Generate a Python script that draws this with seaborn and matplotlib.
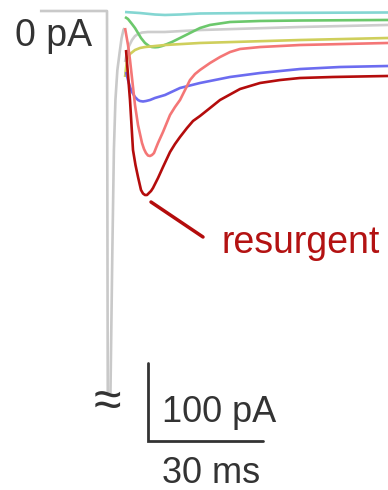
import numpy as np
import pandas as pd
import matplotlib
matplotlib.use("Agg")
import matplotlib.pyplot as plt
import seaborn as sns

sns.set_theme(style="white")
plt.rcParams["font.family"] = ["Liberation Sans", "DejaVu Sans"]

# ---- recorded currents: time (ms) vs current (pA) ----
# conditioning step: holding baseline, transient sodium current (off scale) and its decay
onset_t = [-17.5, 0.0, 0.2]
onset_i = [0.0, 0.0, -490.0]
decay_t = [0.9, 1.4, 1.8, 2.2, 2.7, 3.3, 3.8, 4.3, 4.6]
decay_i = [-490.0, -306.0, -178.0, -114.0, -76.0, -53.0, -35.0, -24.0, -22.0]

# repolarising steps
cyan_t = [4.70, 8.61, 12.52, 15.13, 19.05, 24.26, 37.31, 73.31]
cyan_i = [-1.3, -2.6, -4.5, -5.1, -4.5, -3.2, -2.6, -1.9]

green_t = [4.70, 5.48, 6.52, 7.30, 8.09, 8.87, 9.91, 10.96, 11.74, 12.52, 13.31, 14.35, 15.39,
           16.96, 19.05, 21.65, 24.26, 26.87, 32.09, 39.92, 50.35, 73.31]
green_i = [-7.7, -10.3, -16.7, -21.8, -28.2, -34.6, -41.0, -44.9, -46.2, -46.5, -46.2, -44.9, -42.9,
           -39.7, -34.6, -28.2, -21.8, -17.9, -14.1, -12.8, -12.2, -11.5]

gray_t = [4.70, 5.22, 5.74, 6.52, 7.30, 8.09, 9.13, 10.70, 15.13, 24.26, 50.35, 73.31]
gray_i = [-65.4, -53.8, -44.9, -37.2, -32.1, -29.5, -27.6, -26.9, -26.9, -24.4, -20.5, -17.9]

yellow_t = [4.70, 4.96, 5.22, 5.48, 6.00, 7.30, 8.61, 9.91, 15.13, 24.26, 50.35, 73.31]
yellow_i = [-84.6, -73.1, -64.1, -59.0, -55.1, -50.0, -47.4, -46.2, -43.6, -41.0, -37.2, -34.6]

blue_t = [4.96, 5.48, 6.00, 6.52, 7.30, 8.09, 8.61, 9.39, 10.17, 11.22, 12.52, 15.13, 19.05,
          24.26, 32.09, 39.92, 50.35, 60.79, 73.31]
blue_i = [-78.2, -88.5, -97.4, -103.8, -110.3, -114.1, -115.4, -116.0, -115.4, -114.1, -111.5,
          -107.7, -98.7, -92.3, -84.6, -79.5, -74.4, -71.8, -70.5]

salmon_t = [4.70, 5.48, 6.00, 6.78, 7.30, 8.09, 9.13, 9.65, 10.17, 10.70, 11.22, 11.74, 12.26,
            12.78, 13.31, 14.61, 16.44, 17.74, 19.05, 20.35, 21.65, 22.96, 24.26, 26.87, 29.48,
            32.09, 34.70, 39.92, 50.35, 73.31]
salmon_i = [-21.8, -43.6, -62.8, -97.4, -120.5, -146.2, -169.2, -176.9, -182.1, -185.3, -185.9,
            -184.6, -182.1, -175.6, -169.2, -155.1, -133.3, -123.1, -114.1, -101.3, -88.5, -80.8,
            -75.6, -66.7, -59.0, -52.6, -48.7, -46.2, -43.6, -41.0]

red_t = [4.96, 5.48, 6.00, 6.78, 7.43, 8.09, 8.87, 9.39, 9.91, 10.44, 10.96, 11.48, 12.00, 13.31,
         14.61, 16.44, 17.74, 19.05, 20.87, 22.44, 24.26, 26.87, 29.48, 34.70, 39.92, 45.13,
         50.35, 58.96, 73.31]
red_i = [-50.0, -82.1, -114.1, -178.2, -197.4, -212.8, -229.5, -234.0, -235.9, -235.9, -233.3,
         -230.8, -226.9, -214.1, -200.0, -180.8, -170.5, -161.5, -150.0, -141.0, -134.6, -124.4,
         -114.1, -100.0, -92.3, -88.5, -85.9, -84.6, -83.3]

traces = {
    "onset": (onset_t, onset_i),
    "decay": (decay_t, decay_i),
    "gray": (gray_t, gray_i),
    "cyan": (cyan_t, cyan_i),
    "green": (green_t, green_i),
    "yellow": (yellow_t, yellow_i),
    "blue": (blue_t, blue_i),
    "salmon": (salmon_t, salmon_i),
    "red": (red_t, red_i),
}
palette = {
    "onset": "#c9c9c9", "decay": "#c9c9c9", "gray": "#cdcdcd",
    "cyan": "#84d6d2", "green": "#6cc86c", "yellow": "#cfcf5c",
    "blue": "#6c6cf0", "salmon": "#f47676", "red": "#b40c0c",
}

rows = []
for name, (t, i) in traces.items():
    for k, (tt, ii) in enumerate(zip(t, i)):
        rows.append({"trace": name, "order": k, "time": tt, "current": ii})
df = pd.DataFrame(rows)

fig = plt.figure(figsize=(3.88, 4.90), dpi=100)
ax = fig.add_axes([0, 0, 1, 1])

sns.lineplot(data=df, x="time", y="current", hue="trace", units="trace",
             estimator=None, sort=False, palette=palette, legend=False,
             linewidth=1.9, ax=ax)
for ln in ax.lines:
    ln.set_solid_capstyle("butt")
    ln.set_solid_joinstyle("round")

px_ms = 115 / 30.0   # pixels per ms
px_pa = 78 / 100.0   # pixels per pA
ax.set_xlim(-107 / px_ms, (388 - 107) / px_ms)
ax.set_ylim((11 - 490) / px_pa, 11 / px_pa)
ax.set_axis_off()

# scale bars: 100 pA and 30 ms
bar_t0 = (148 - 107) / px_ms
bar_i0 = (11 - 441) / px_pa
ax.plot([bar_t0, bar_t0, bar_t0 + 30], [bar_i0 + 100, bar_i0, bar_i0],
        color="#333333", lw=2, solid_joinstyle="miter")

dark = "#333333"
fig.text(15 / 388, 1 - 46 / 490, "0 pA", fontsize=27, color=dark, ha="left", va="baseline")
fig.text(162 / 388, 1 - 422 / 490, "100 pA", fontsize=26, color=dark, ha="left", va="baseline")
fig.text(162 / 388, 1 - 483 / 490, "30 ms", fontsize=26, color=dark, ha="left", va="baseline")
fig.text(107 / 388, 1 - 403 / 490, "≈", fontsize=36, color=dark, ha="center", va="center")

# resurgent label with pointer
fig.add_artist(plt.Line2D([151 / 388, 203 / 388], [1 - 202 / 490, 1 - 237 / 490],
                          color="#b40c0c", lw=2.5))
fig.text(222 / 388, 1 - 253 / 490, "resurgent", fontsize=27, color="#b31212",
         ha="left", va="baseline")

fig.savefig("out.png", dpi=100)
